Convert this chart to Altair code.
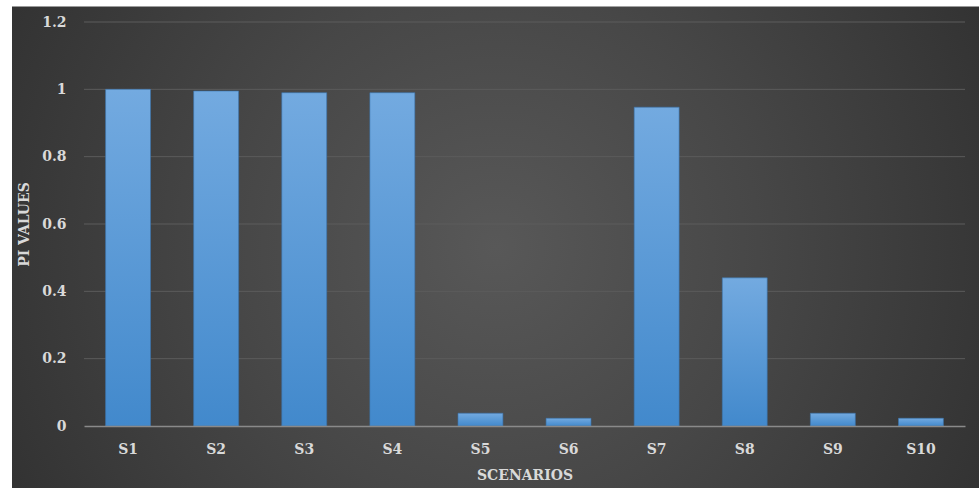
import altair as alt
import pandas as pd

scenarios = ["S1", "S2", "S3", "S4", "S5", "S6", "S7", "S8", "S9", "S10"]
pi_values = [1.0, 0.995, 0.99, 0.99, 0.038, 0.023, 0.947, 0.44, 0.038, 0.023]
y_ticks = [0, 0.2, 0.4, 0.6, 0.8, 1.0, 1.2]

df = pd.DataFrame({"scenario": scenarios, "pi": pi_values})
grid_df = pd.DataFrame({"v": y_ticks[1:]})

W, H = 881, 404
FONT = "DejaVu Serif"
TXT = "#d9d9d9"

yscale = alt.Scale(domain=[0, 1.2], nice=False)
yaxis = alt.Axis(title="PI VALUES", values=y_ticks, format="~g",
                 ticks=False, domain=False, labelPadding=18,
                 titlePadding=10, grid=False, zindex=1)

bg = alt.Chart(pd.DataFrame({"a": [0]})).mark_rect(
    color=alt.Gradient(
        gradient="radial",
        stops=[alt.GradientStop(color="#585858", offset=0),
               alt.GradientStop(color="#474747", offset=0.4),
               alt.GradientStop(color="#2a2a2a", offset=1)],
        x1=0.5, y1=0.5, r1=0, x2=0.5, y2=0.5, r2=0.68,
    )
).encode(
    x=alt.value(-72), x2=alt.value(W + 14),
    y=alt.value(-15.5), y2=alt.value(H + 62),
)

grid = alt.Chart(grid_df).mark_rule(color="#5c5c5c", strokeWidth=1).encode(
    y=alt.Y("v:Q", scale=yscale, axis=yaxis),
    x=alt.value(0), x2=alt.value(W),
)

bars = alt.Chart(df).mark_bar(
    color=alt.Gradient(
        gradient="linear",
        stops=[alt.GradientStop(color="#73aae0", offset=0),
               alt.GradientStop(color="#4289cc", offset=1)],
        x1=0, y1=0, x2=0, y2=1,
    ),
    stroke="#3b74ad", strokeWidth=0.6,
).encode(
    x=alt.X("scenario:N", sort=scenarios,
            scale=alt.Scale(paddingInner=0.49, paddingOuter=0.245),
            axis=alt.Axis(title="SCENARIOS", labelAngle=0, ticks=False,
                          domain=True, domainColor="#8a8a8a", domainWidth=1.5,
                          labelPadding=16, titlePadding=12, grid=False,
                          zindex=1)),
    y=alt.Y("pi:Q", scale=yscale, axis=yaxis),
)

chart = alt.layer(bg, grid, bars).properties(
    width=W, height=H,
    background="white",
    padding={"left": 84, "top": 22, "right": 14, "bottom": 62},
    autosize=alt.AutoSizeParams(type="none"),
).configure_view(stroke=None).configure_axis(
    labelFont=FONT, labelFontWeight="bold", labelFontSize=14, labelColor=TXT,
    titleFont=FONT, titleFontWeight="bold", titleFontSize=14, titleColor=TXT,
)

chart.save("out.html", embed_options={"renderer": "svg", "actions": False})
